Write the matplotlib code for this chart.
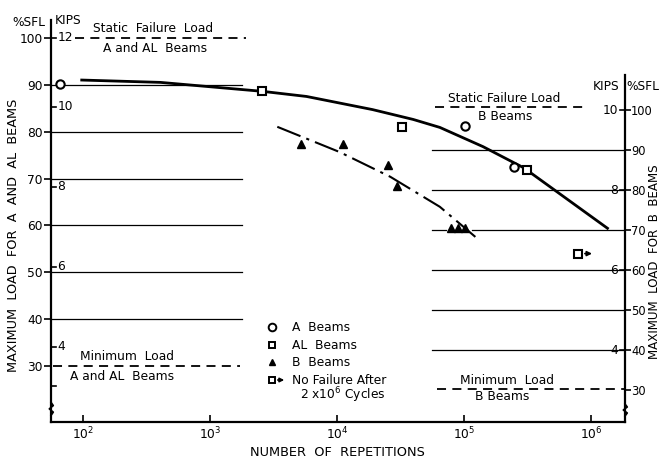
import numpy as np
import matplotlib.pyplot as plt
import matplotlib.transforms as mtransforms

plt.rcParams["font.family"] = "DejaVu Sans"

# ---- data ----
# repetitions (log10) / load in %SFL of A & AL beams (left scale)
curve_A_logN = [1.99, 2.61, 3.24, 3.41, 3.76, 4.28, 4.60, 4.81, 5.15, 5.47, 5.68, 6.13]
curve_A_pct = [91.0, 90.5, 89.0, 88.6, 87.5, 84.7, 82.6, 80.9, 76.8, 72.3, 68.2, 59.4]

A_logN = [1.82, 5.01, 5.39]
A_pct = [90.1, 81.3, 72.5]
AL_logN = [3.41, 4.51, 5.50]
AL_pct = [88.6, 80.9, 71.8]
runout_logN = [5.90]
runout_pct = [54.0]

# B beams on the right scale (%SFL of B beams)
curve_B_logN = [3.53, 4.02, 4.42, 4.81, 5.10]
curve_B_pct = [95.8, 89.5, 83.3, 75.8, 68.0]
B_logN = [3.72, 4.05, 4.40, 4.47, 4.90, 4.95, 5.01]
B_pct = [91.5, 91.5, 86.3, 81.0, 70.5, 70.5, 70.5]

pct_ticks = [100, 90, 80, 70, 60, 50, 40, 30]
left_kips = ["12", "10", "8", "6", "4", ""]
left_kip_pct = [100, 85.3, 68.2, 51.2, 34.1, 25.8]
right_kips = ["10", "8", "6", "4"]
right_kip_pct = [100, 80, 60, 40]
grid_pct = [90, 80, 70, 60, 50, 40]
decades = [2, 3, 4, 5, 6]

W, H = 662, 465
fig = plt.figure(figsize=(W / 100, H / 100), dpi=100)
ax = fig.add_axes([51 / W, 1 - 422 / H, 574 / W, 402 / H])
ax.set_xscale("log")
ax.set_xlim(10 ** 1.748, 10 ** 6.268)
ax.set_ylim(18.1, 103.8)
ax2 = ax.twinx()
ax2.set_ylim(22.0, 122.5)

def px(x, y, s, **kw):
    fig.text(x / W, 1 - y / H, s, **kw)

fs = 8.8
# spines
for s in ["top", "right"]:
    ax.spines[s].set_visible(False)
for s in ["top", "left", "bottom"]:
    ax2.spines[s].set_visible(False)
ax.spines["left"].set_bounds(18.1, 103.8)
ax2.spines["right"].set_bounds(22.0, 108.7)
for sp in [ax.spines["left"], ax.spines["bottom"], ax2.spines["right"]]:
    sp.set_linewidth(1.6)

# x ticks
ax.set_xticks([10 ** d for d in decades])
ax.set_xticklabels([f"$10^{d}$" for d in decades], fontsize=fs)
ax.minorticks_off()
ax.tick_params(axis="x", direction="in", length=5, width=1.2, pad=3)

# left / right %SFL
ax.set_yticks(pct_ticks)
ax.set_yticklabels([str(v) for v in pct_ticks], fontsize=fs)
ax.tick_params(axis="y", direction="out", length=5, width=1.2, pad=1)
ax2.set_yticks(pct_ticks)
ax2.set_yticklabels([str(v) for v in pct_ticks], fontsize=8.3)
ax2.tick_params(axis="y", direction="out", length=4, width=1.2, pad=0.5)

# axis titles
px(337, 452, "NUMBER  OF  REPETITIONS", fontsize=9.3, ha="center", va="center")
px(14, 235, "MAXIMUM  LOAD  FOR  A  AND  AL  BEAMS", fontsize=9.3,
   rotation=90, ha="center", va="center")
px(655, 262, "MAXIMUM  LOAD  FOR  B  BEAMS", fontsize=8.6,
   rotation=90, ha="center", va="center")

# kips ticks
tl = mtransforms.blended_transform_factory(ax.transAxes, ax.transData)
for k, p in zip(left_kips, left_kip_pct):
    ax.plot([0, 0.009], [p, p], color="k", lw=1.2, transform=tl, clip_on=False)
    ax.text(0.011, p, k, transform=tl, fontsize=fs, va="center", ha="left")
tr = mtransforms.blended_transform_factory(ax2.transAxes, ax2.transData)
for k, p in zip(right_kips, right_kip_pct):
    ax2.plot([0.991, 1], [p, p], color="k", lw=1.2, transform=tr, clip_on=False)
    ax2.text(0.988, p, k, transform=tr, fontsize=fs, va="center", ha="right")

# axis breaks
for axx, xa, trf, y0, y1 in [(ax, 0.0, tl, 22.3, 19.5), (ax2, 1.0, tr, 26.5, 23.5)]:
    ys = np.linspace(y0, y1, 5)
    xs = [xa, xa + 0.004, xa - 0.003, xa + 0.004, xa]
    axx.plot([xa, xa], [y0, y1], color="w", lw=3, transform=trf, clip_on=False)
    axx.plot(xs, ys, color="k", lw=1.2, transform=trf, clip_on=False)

# reference lines
for p in grid_pct:
    ax.plot([10 ** 1.748, 10 ** 3.25], [p, p], color="k", lw=0.9)
    if p == 70:
        ax2.plot([10 ** 4.748, 10 ** 4.86], [p, p], color="k", lw=0.9)
        ax2.plot([10 ** 5.06, 10 ** 6.268], [p, p], color="k", lw=0.9)
    else:
        ax2.plot([10 ** 4.748, 10 ** 6.268], [p, p], color="k", lw=0.9)
dash = (0, (5, 3.5))
ax.plot([10 ** 1.94, 10 ** 3.28], [100, 100], color="k", lw=1.3, ls=dash)
ax.plot([10 ** 1.76, 10 ** 3.24], [30, 30], color="k", lw=1.3, ls=dash)
ax2.plot([10 ** 4.77, 10 ** 5.94], [100.7, 100.7], color="k", lw=1.3, ls=dash)
ax2.plot([10 ** 4.79, 10 ** 6.268], [30.3, 30.3], color="k", lw=1.3, ls=dash)

# curves and points
ax.plot(10 ** np.array(curve_A_logN), curve_A_pct, color="k", lw=2.0)
ax2.plot(10 ** np.array(curve_B_logN), curve_B_pct, color="k", lw=1.5, ls=(0, (12, 3, 1.5, 3)))
ax.plot(10 ** np.array(A_logN), A_pct, "o", mfc="w", mec="k", mew=1.5, ms=6)
ax.plot(10 ** np.array(AL_logN), AL_pct, "s", mfc="w", mec="k", mew=1.5, ms=5.5)
ax2.plot(10 ** np.array(B_logN), B_pct, "^", color="k", ms=5.5)
ax.plot(10 ** np.array(runout_logN), runout_pct, "s", mfc="w", mec="k", mew=1.5, ms=5.5)
for n, p in zip(runout_logN, runout_pct):
    ax.annotate("", xy=(10 ** (n + 0.13), p), xytext=(10 ** (n + 0.03), p),
                arrowprops=dict(arrowstyle="-|>", color="k", lw=1.2, mutation_scale=7))

# text annotations
px(12, 22, "%SFL", fontsize=fs, va="center")
px(55, 20, "KIPS", fontsize=fs, va="center")
px(593, 87, "KIPS", fontsize=fs, va="center")
px(626, 87, "%SFL", fontsize=fs, va="center")
px(153, 29, "Static  Failure  Load", fontsize=fs, ha="center", va="center")
px(155, 48, "A and AL  Beams", fontsize=fs, ha="center", va="center")
px(127, 357, "Minimum  Load", fontsize=fs, ha="center", va="center")
px(122, 376, "A and AL  Beams", fontsize=fs, ha="center", va="center")
px(504, 99, "Static Failure Load", fontsize=fs, ha="center", va="center")
px(505, 116, "B Beams", fontsize=fs, ha="center", va="center")
px(507, 380, "Minimum  Load", fontsize=fs, ha="center", va="center")
px(502, 396, "B Beams", fontsize=fs, ha="center", va="center")

# legend block
leg = fig.add_axes([0, 0, 1, 1], facecolor="none")
leg.set_xlim(0, W)
leg.set_ylim(H, 0)
leg.axis("off")
leg.plot([272], [327], "o", mfc="w", mec="k", mew=1.4, ms=5.5)
leg.plot([272], [345], "s", mfc="w", mec="k", mew=1.4, ms=5)
leg.plot([272], [362], "^", color="k", ms=5)
leg.plot([272], [380], "s", mfc="w", mec="k", mew=1.4, ms=5)
leg.annotate("", xy=(287, 380), xytext=(275, 380),
             arrowprops=dict(arrowstyle="-|>", color="k", lw=1.2, mutation_scale=6))
for y, s in [(327, "A  Beams"), (345, "AL  Beams"), (362, "B  Beams"),
             (380, "No Failure After")]:
    leg.text(292, y, s, fontsize=fs, va="center")
leg.text(300, 395, "2 x$10^6$ Cycles", fontsize=fs, va="center")

fig.savefig("out.png", dpi=100)
